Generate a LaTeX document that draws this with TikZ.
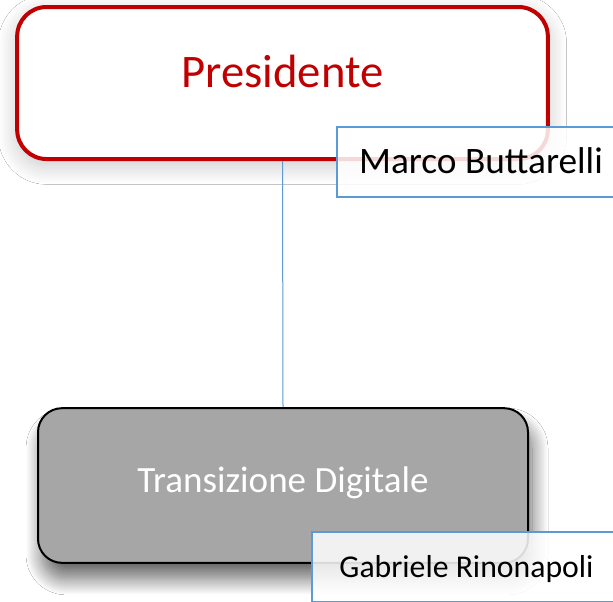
\documentclass[tikz,border=0pt]{standalone}
\usepackage{fontspec}
\setmainfont{Carlito}
\usepackage{tikz}
\usetikzlibrary{shadows.blur}
\definecolor{presred}{HTML}{C00000}
\definecolor{nameblue}{HTML}{5B9BD5}
\definecolor{unitgray}{HTML}{A6A6A6}
\tikzset{
  headbox/.style={draw=presred, line width=3pt, fill=white, rounded corners=22pt,
    minimum width=398pt, minimum height=114pt, text=presred,
    font=\fontsize{35}{40}\selectfont, text height=22pt, text depth=15pt,
    blur shadow={shadow xshift=0pt, shadow yshift=-5pt, shadow blur radius=14pt,
      shadow blur steps=20, shadow opacity=22}},
  unitbox/.style={draw=black, line width=1.5pt, fill=unitgray, rounded corners=18pt,
    minimum width=367.5pt, minimum height=116pt, text=white,
    font=\fontsize{27.8}{33}\selectfont, text height=16pt, text depth=6.25pt,
    blur shadow={shadow xshift=3pt, shadow yshift=-12pt, shadow blur radius=12pt,
      shadow blur steps=20, shadow opacity=60}},
  namebox/.style={draw=nameblue, line width=1.5pt, fill=white, fill opacity=0.85,
    text opacity=1, text=black, minimum height=52.5pt},
  link/.style={draw=nameblue, line width=0.75pt}
}
\begin{document}
\begin{tikzpicture}[x=0.75pt,y=-0.75pt]
\useasboundingbox (0,0) rectangle (613,601);
\clip (0,0) rectangle (613,601);
\fill[white] (0,0) rectangle (613,601);

% boxes
\node[headbox] (pres) at (282.5,83) {Presidente};
\node[unitbox] (trans) at (283,485.5) {Transizione Digitale};

% connector
\draw[link] (pres.south) -- (trans.north);

% names
\node[namebox, minimum width=216pt, font=\fontsize{28}{33}\selectfont,
  text height=18pt, text depth=1.5pt] (marco) at (481,162) {Marco Buttarelli};
\node[namebox, minimum width=231.75pt, font=\fontsize{23.8}{28}\selectfont,
  text height=16pt, text depth=1pt] (gabriele) at (466.5,567) {Gabriele Rinonapoli};
\end{tikzpicture}
\end{document}
